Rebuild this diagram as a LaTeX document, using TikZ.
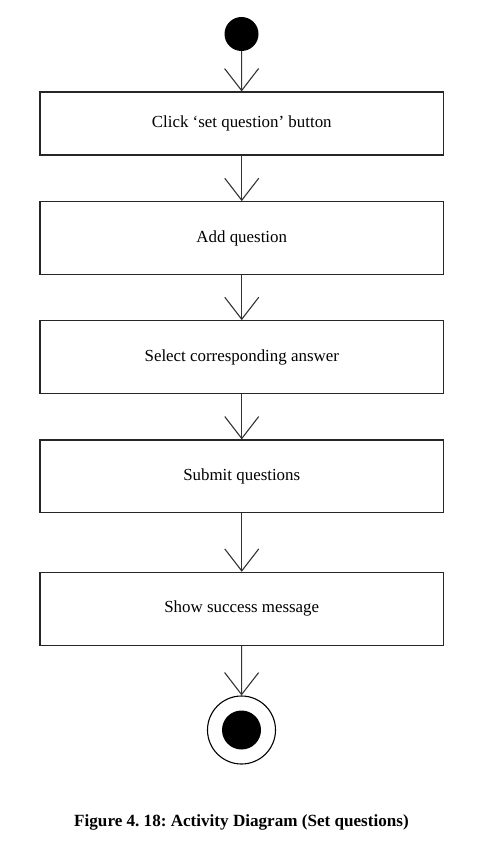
\documentclass[tikz,border=0pt]{standalone}
\usepackage{fontspec}
\setmainfont{Liberation Serif}
\usetikzlibrary{arrows.meta}
\frenchspacing
\begin{document}
\begin{tikzpicture}[x=1pt,y=-1pt,
  actbox/.style={draw=black!85, line width=1.1pt, minimum width=403.5pt, inner sep=0pt, font=\fontsize{16.9}{19}\selectfont},
  flow/.style={draw=black!80, line width=1.1pt, -{Straight Barb[length=22pt,width=34pt,line width=1.1pt]}},
  capt/.style={font=\fontsize{17.1}{20}\selectfont\bfseries}]
\useasboundingbox (0,0) rectangle (498,842);
\node[circle, fill=black, minimum size=34pt, inner sep=0pt] (start) at (241.5,34) {};
\node[actbox, minimum height=63pt] (b1) at (241.75,123.5) {Click ‘set question’ button};
\node[actbox, minimum height=72.6pt] (b2) at (241.75,238) {Add question};
\node[actbox, minimum height=72.6pt] (b3) at (241.75,357) {Select corresponding answer};
\node[actbox, minimum height=72.7pt] (b4) at (241.75,476.3) {Submit questions};
\node[actbox, minimum height=72.7pt] (b5) at (241.75,608.7) {Show success message};
\node[circle, draw=black, line width=1.1pt, minimum size=68pt, inner sep=0pt] (end) at (241.5,730) {};
\node[circle, fill=black, minimum size=39pt, inner sep=0pt] (endin) at (end.center) {};
\draw[flow] (start) -- (b1);
\draw[flow] (b1) -- (b2);
\draw[flow] (b2) -- (b3);
\draw[flow] (b3) -- (b4);
\draw[flow] (b4) -- (b5);
\draw[flow] (b5) -- (end);
\node[capt] (cap) at (241.5,822) {Figure 4. 18: Activity Diagram (Set questions)};
\end{tikzpicture}
\end{document}
